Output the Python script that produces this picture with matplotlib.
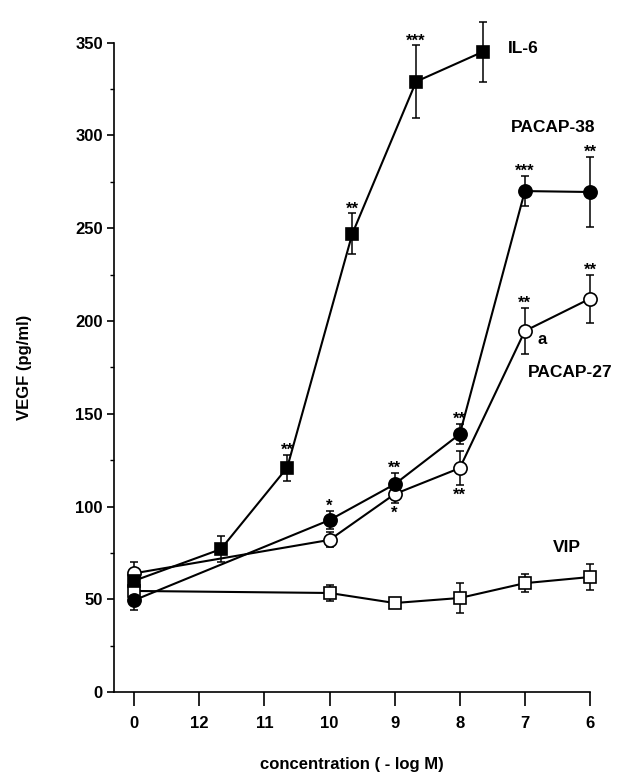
import matplotlib
matplotlib.use("Agg")
import matplotlib.pyplot as plt
from matplotlib.ticker import MultipleLocator

plt.rcParams["font.family"] = ["Liberation Sans", "DejaVu Sans"]
plt.rcParams["font.weight"] = "bold"
plt.rcParams["axes.labelweight"] = "bold"

# category positions on the x axis (0 = control, then 10^-12 ... 10^-6 M)
tick_pos = [0, 1, 2, 3, 4, 5, 6, 7]
tick_labels = ["0", "12", "11", "10", "9", "8", "7", "6"]

# PACAP / VIP share the same concentrations
pep_x = [0, 3, 4, 5, 6, 7]
pacap38_y = [49.5, 92.7, 112, 139, 270, 269.5]
pacap38_err = [5, 5, 6, 5.5, 8, 19]
pacap38_stars = ["", "*", "**", "**", "***", "**"]

pacap27_y = [64, 82, 106.7, 120.7, 194.6, 212]
pacap27_err = [6, 4, 5, 9, 12.5, 13]
pacap27_stars = ["", "", "*", "**", "**", "**"]
pacap27_side = ["", "", "below", "below", "above", "above"]

vip_y = [54.5, 53.4, 48, 50.7, 58.7, 62]
vip_err = [3, 4.5, 2.5, 8, 5, 7]

# IL-6 was plotted at shifted positions
il6_x = [0, 1.33, 2.35, 3.35, 4.33, 5.35]
il6_y = [60, 77, 121, 247, 329, 345]
il6_err = [4, 7, 7, 11, 19.5, 16]
il6_stars = ["", "", "**", "**", "***", "***"]

fig = plt.figure(figsize=(6.23, 7.75), dpi=100)
ax = fig.add_axes([0.183, 0.107, 0.764, 0.838])

lw = 1.5


def draw(x, y, err, marker, face, ms):
    ax.errorbar(x, y, yerr=err, fmt="none", ecolor="black", elinewidth=1.1,
                capsize=3, capthick=1.1, zorder=2, clip_on=False)
    ax.plot(x, y, color="black", lw=lw, marker=marker, markersize=ms,
            markerfacecolor=face, markeredgecolor="black", markeredgewidth=1.2,
            zorder=3, clip_on=False)


draw(pep_x, vip_y, vip_err, "s", "white", 8)
draw(pep_x, pacap27_y, pacap27_err, "o", "white", 9.5)
draw(pep_x, pacap38_y, pacap38_err, "o", "black", 9.5)
draw(il6_x, il6_y, il6_err, "s", "black", 8)


def stars(x, y, err, labels, sides=None):
    for i, s in enumerate(labels):
        if not s:
            continue
        side = sides[i] if sides else "above"
        if side == "above":
            ax.annotate(s, (x[i], y[i] + err[i]), xytext=(0, 0),
                        textcoords="offset points", ha="center", va="baseline",
                        fontsize=12)
        else:
            ax.annotate(s, (x[i], y[i] - err[i]), xytext=(0, -2),
                        textcoords="offset points", ha="center", va="top",
                        fontsize=12)


stars(il6_x, il6_y, il6_err, il6_stars)
stars(pep_x, pacap38_y, pacap38_err, pacap38_stars)
stars(pep_x, pacap27_y, pacap27_err, pacap27_stars, pacap27_side)

ax.text(6.2, 190, "a", fontsize=12, ha="left", va="center")

ax.text(5.74, 347, "IL-6", fontsize=12.5, ha="left", va="center")
ax.text(6.44, 304, "PACAP-38", fontsize=12.5, ha="center", va="center")
ax.text(6.70, 172, "PACAP-27", fontsize=12.5, ha="center", va="center")
ax.text(6.65, 78, "VIP", fontsize=12.5, ha="center", va="center")

ax.set_xlim(-0.31, 7)
ax.set_ylim(0, 350)
ax.set_xticks(tick_pos)
ax.set_xticklabels(tick_labels)
ax.yaxis.set_major_locator(MultipleLocator(50))
ax.yaxis.set_minor_locator(MultipleLocator(25))

for side in ["top", "right"]:
    ax.spines[side].set_visible(False)
ax.spines["left"].set_linewidth(1.2)
ax.spines["bottom"].set_linewidth(1.2)

ax.tick_params(axis="x", direction="out", length=10, width=1.2, labelsize=12, pad=7)
ax.tick_params(axis="y", which="major", direction="out", length=5, width=1.2, labelsize=12, pad=3)
ax.tick_params(axis="y", which="minor", direction="out", length=3, width=1.0)

ax.set_ylabel("VEGF (pg/ml)", fontsize=12, va="center")
ax.yaxis.set_label_coords(-0.189, 0.5)
ax.set_xlabel("concentration ( - log M)", fontsize=12, va="center")
ax.xaxis.set_label_coords(0.5, -0.112)

fig.savefig("out.png", dpi=100)
